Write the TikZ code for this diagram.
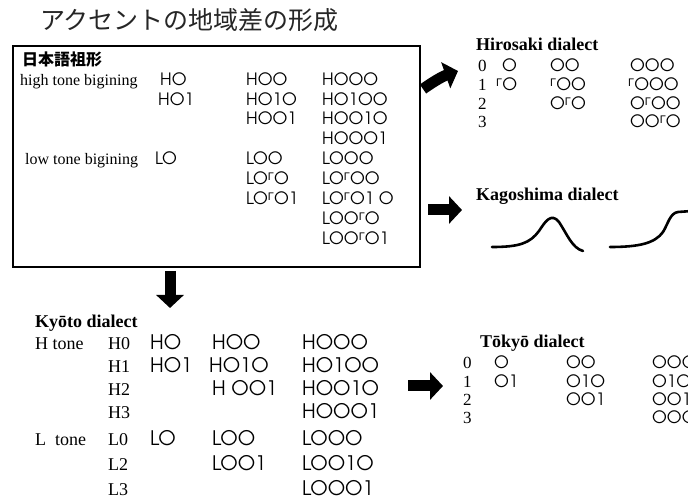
\documentclass[tikz,border=0pt]{standalone}
\usepackage{fontspec}
\setmainfont{Liberation Serif}
\newfontfamily\cjk{Noto Sans CJK JP}
\newfontfamily\geo{texgyreadventor-regular.otf}
\newfontfamily\markfont{Liberation Sans}
\usetikzlibrary{arrows.meta}
% rise mark used inside the pitch strings
\newcommand{\rise}{\raisebox{4.5pt}{\markfont\fontsize{11}{11}\selectfont Γ}}
\tikzset{
    pitch/.style = {
        anchor=base west,
        inner sep=0pt,
        font=\geo\fontsize{17}{17}\selectfont,
        },
    big pitch/.style = {
        pitch,
        font=\geo\fontsize{20}{20}\selectfont,
        },
    side pitch/.style = {
        pitch,
        font=\geo\fontsize{17}{17}\selectfont,
        },
    row name/.style = {
        anchor=base west,
        inner sep=0pt,
        font=\fontsize{16}{16}\selectfont,
        },
    big row name/.style = {
        row name,
        font=\fontsize{18}{18}\selectfont,
        },
    dialect/.style = {
        anchor=base west,
        inner sep=0pt,
        font=\bfseries\fontsize{18}{18}\selectfont,
        },
    big arrow/.style = {
        line width=11pt,
        -{Triangle[length=13pt,width=27pt]},
        },
    kago curve/.style = {
        line width=2.6pt,
        line cap=round,
        }
}

\begin{document}
\begin{tikzpicture}[x=1pt, y=-1pt]
            \useasboundingbox (0,0) rectangle (688,502);

            \node[anchor=base west, inner sep=0pt, text=black!85, font=\cjk\fontsize{25}{25}\selectfont] (title) at (40,30) {アクセントの地域差の形成};

            % proto-Japanese box
            \node[draw, line width=1.6pt, minimum width=407pt, minimum height=221pt, inner sep=0pt] (proto) at (216.5,156.5) {};
            \node[anchor=base west, inner sep=0pt, font=\cjk\bfseries\fontsize{16}{16}\selectfont] (protoName) at (22,66) {日本語祖形};
            \node[row name] (highStart) at (20,86) {high tone bigining};
            \node[row name] (lowStart) at (25,165) {low tone bigining};
            \foreach \x/\y/\t [count=\i] in {160/86/HO, 246/86/HOO, 322/86/HOOO,
                    158/106/HO1, 246/106/HO1O, 322/106/HO1OO,
                    246/125/HOO1, 322/125/HOO1O,
                    322/145/HOOO1,
                    155/165/LO, 246/165/LOO, 322/165/LOOO,
                    246/185/LO\rise O, 322/185/LO\rise OO,
                    246/205/LO\rise O1, 322/205/LO\rise O1 O,
                    322/225/LOO\rise O,
                    322/245/LOO\rise O1}
                \node[pitch] (proto\i) at (\x,\y) {\t};

            % Hirosaki
            \node[dialect] (hirosaki) at (476,51) {Hirosaki dialect};
            \foreach \n/\y in {0/72, 1/91, 2/110, 3/128}
                \node[row name, font=\fontsize{17}{17}\selectfont] (hiroNum\n) at (478,\y) {\n};
            \foreach \x/\y/\t [count=\i] in {502/72/O, 550/72/OO, 630/72/OOO,
                    496/91/\rise O, 550/91/\rise OO, 628/91/\rise OOO,
                    550/110/O\rise O, 630/110/O\rise OO,
                    630/128/OO\rise O}
                \node[side pitch] (hiro\i) at (\x,\y) {\t};

            % Kagoshima
            \node[dialect] (kagoshima) at (476,201) {Kagoshima dialect};
            \draw[kago curve] (492,247) .. controls (520,247) and (530,243) .. (539,231)
                .. controls (545,222) and (551,212) .. (559,222)
                .. controls (567,234) and (572,248) .. (583,251);
            \draw[kago curve] (610,247) .. controls (640,247) and (655,243) .. (663,232)
                .. controls (668,224) and (670,213) .. (678,212) -- (692,211);

            % Kyoto
            \node[dialect] (kyoto) at (35,328) {Ky\=oto dialect};
            \node[big row name] (hTone) at (35,349.5) {H tone};
            \node[big row name] (lTone) at (35,445.5) {L\ \ tone};
            \foreach \t/\y in {H0/349.5, H1/372.5, H2/395.5, H3/418.5, L0/445.5, L2/470.5, L3/495.5}
                \node[big row name] (level\t) at (108,\y) {\t};
            \foreach \x/\y/\t [count=\i] in {150/349.5/HO, 212/349.5/HOO, 302/349.5/HOOO,
                    150/372.5/HO1, 209/372.5/HO1O, 302/372.5/HO1OO,
                    212/395.5/H OO1, 302/395.5/HOO1O,
                    302/418.5/HOOO1,
                    150/445.5/LO, 212/445.5/LOO, 302/445.5/LOOO,
                    212/470.5/LOO1, 302/470.5/LOO1O,
                    302/495.5/LOOO1}
                \node[big pitch] (kyoto\i) at (\x,\y) {\t};

            % Tokyo
            \node[dialect] (tokyo) at (480,348) {T\=oky\=o dialect};
            \foreach \n/\y in {0/369, 1/388, 2/406, 3/424}
                \node[row name, font=\fontsize{17}{17}\selectfont] (tokyoNum\n) at (463,\y) {\n};
            \foreach \x/\y/\t [count=\i] in {494/369/O, 566/369/OO, 652/369/OOO,
                    494/388/O1, 566/388/O1O, 652/388/O1OO,
                    566/406/OO1, 652/406/OO1O,
                    652/424/OOO1}
                \node[side pitch] (tokyo\i) at (\x,\y) {\t};

            % arrows
            \coordinate (toHiroTail) at (423,89);
            \coordinate (toHiroHead) at (458,71);
            \coordinate (toKagoTail) at (428,210);
            \coordinate (toKagoHead) at (462,210);
            \coordinate (toKyotoTail) at (170,271);
            \coordinate (toKyotoHead) at (170,308);
            \coordinate (toTokyoTail) at (408,386);
            \coordinate (toTokyoHead) at (443,386);
            \draw[big arrow] (toHiroTail) to[bend left=8] (toHiroHead);
            \draw[big arrow] (toKagoTail) -- (toKagoHead);
            \draw[big arrow] (toKyotoTail) -- (toKyotoHead);
            \draw[big arrow] (toTokyoTail) -- (toTokyoHead);
        \end{tikzpicture}
\end{document}
